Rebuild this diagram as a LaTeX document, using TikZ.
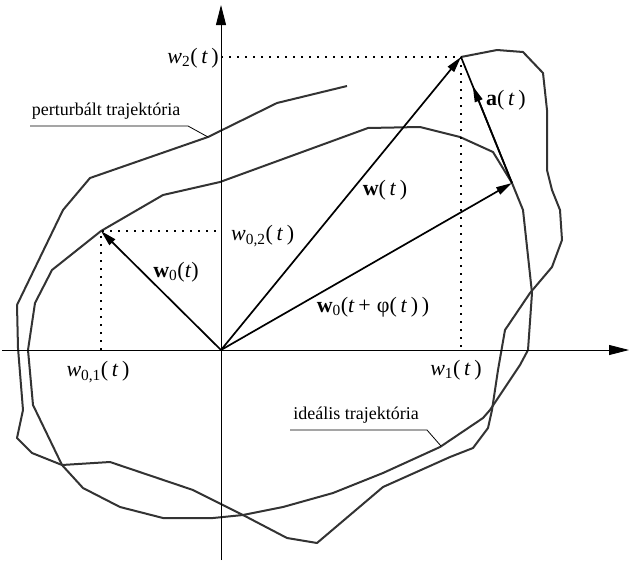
\documentclass[tikz,border=0pt]{standalone}
\usepackage{fontspec}
\setmainfont{Liberation Serif}
\usetikzlibrary{arrows.meta,calc}

\begin{document}
\begin{tikzpicture}[x=1pt,y=-1pt,
  every node/.style={font=\fontsize{18}{20}\selectfont,inner sep=1pt},
  lbl/.style={font=\fontsize{22}{24}\selectfont},
  axis/.style={line width=0.9pt,-{Triangle[length=20pt,width=10pt]}},
  vec/.style={line width=1.7pt,-{Triangle[length=16pt,width=8pt]}},
  traj/.style={line width=2pt,line join=round,draw=black!80},
  guide/.style={line width=1.1pt,dash pattern=on 2pt off 6pt},
  leader/.style={line width=0.8pt}
]
  \useasboundingbox (0,0) rectangle (629,560);

  % points
  \coordinate (O)   at (221,350);
  \coordinate (W)   at (461,57);
  \coordinate (W0)  at (101,231);
  \coordinate (W0p) at (512,183);
  \coordinate (xl)  at (2,350);
  \coordinate (xr)  at (629,350);
  \coordinate (yb)  at (221,560);
  \coordinate (yt)  at (221,5);

  % trajectories
  \draw[traj] (347,86) -- (277,103) -- (208,137) -- (90,178) -- (63,210)
    -- (17,305) -- (18,348) -- (23,410) -- (17,438) -- (32,453) -- (62,465)
    -- (110,462) -- (193,490) -- (243,515) -- (287,538) -- (317,543)
    -- (383,487) -- (450,457) -- (473,448) -- (488,428) -- (492,410)
    -- (498,370) -- (505,330) -- (530,293) -- (552,267) -- (562,240)
    -- (560,210) -- (552,190) -- (547,170) -- (547,110) -- (543,73)
    -- (523,52) -- (497,50) -- (W);
  \draw[traj] (W0p) -- (523,210) -- (532,293) -- (528,350) -- (520,365)
    -- (490,410) -- (483,418) -- (440,447) -- (383,473) -- (333,493)
    -- (283,507) -- (243,515) -- (213,518) -- (163,518) -- (120,507)
    -- (83,488) -- (62,465) -- (33,405) -- (28,350) -- (35,303) -- (52,270)
    -- (W0) -- (163,195) -- (220,182) -- (368,128) -- (420,127) -- (460,137)
    -- (493,152) -- cycle;

  % axes
  \draw[axis] (xl) -- (xr);
  \draw[axis] (yb) -- (yt);

  % projections
  \draw[guide] (W0 |- O) -- (W0) -- (W0 -| O);
  \draw[guide] (W -| O) -- (W) -- (W |- O);

  % vectors
  \draw[vec] (O) -- (W0);
  \draw[vec] (O) -- (W);
  \draw[vec] (O) -- (W0p);
  \draw[line width=1.7pt] (W0p) -- (W);
  \draw[vec] (W0p) -- ($(W0p)!0.77!(W)$);

  % labels
  \node[lbl,anchor=east] (w2)  at (220,58)  {\textit{w}\textsubscript{2}(\,\textit{t}\,)};
  \node[lbl,anchor=west] (w02) at (230,236) {\textit{w}\textsubscript{0,2}(\,\textit{t}\,)};
  \node[lbl] (w0l)  at (176,272) {\textbf{w}\textsubscript{0}(\textit{t})};
  \node[lbl] (wl)   at (385,190) {\textbf{w}(\,\textit{t}\,)};
  \node[lbl] (al)   at (506,100) {\textbf{a}(\,\textit{t}\,)};
  \node[lbl] (w0pl) at (373,307) {\textbf{w}\textsubscript{0}(\textit{t}\,+\;φ(\,\textit{t}\,)\,)};
  \node[lbl] (w01)  at (98,372)  {\textit{w}\textsubscript{0,1}(\,\textit{t}\,)};
  \node[lbl] (w1)   at (456,370) {\textit{w}\textsubscript{1}(\,\textit{t}\,)};

  \node (pert) at (106,111) {perturbált trajektória};
  \node (ideal) at (356,415) {ideális trajektória};
  \draw[leader] (30,126) -- (188,126) -- (208,137);
  \draw[leader] (290,430) -- (427,430) -- (441,446);
\end{tikzpicture}
\end{document}
